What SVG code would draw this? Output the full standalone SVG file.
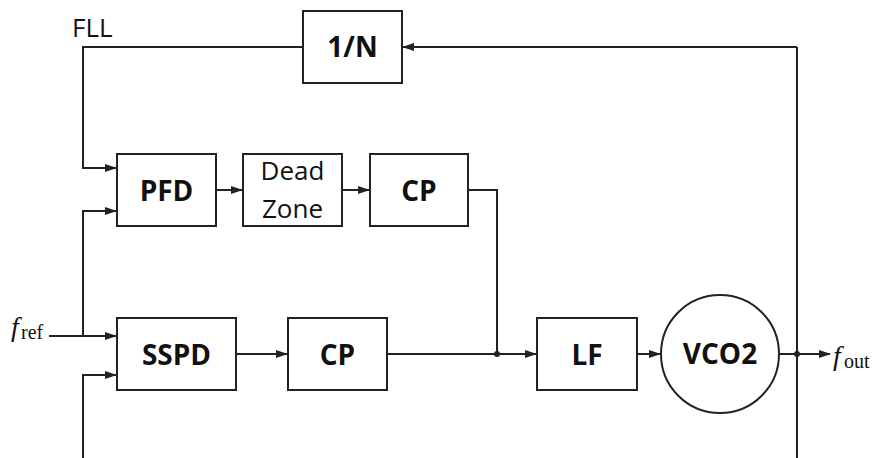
<svg xmlns="http://www.w3.org/2000/svg" width="872" height="458" viewBox="0 0 872 458">
<style>
.box{fill:#fff;stroke:#222;stroke-width:2}
.w{fill:none;stroke:#222;stroke-width:2}
.lb{font-family:"Open Sans","Liberation Sans",sans-serif;font-weight:bold;font-size:28px;fill:#111;text-anchor:middle}
.lr{font-family:"Open Sans","Liberation Sans",sans-serif;font-size:26px;fill:#111;text-anchor:middle}
.sf{font-family:"Liberation Serif",serif;fill:#111}
</style>
<defs>
<marker id="ah" markerWidth="12" markerHeight="8" refX="11" refY="4" orient="auto" markerUnits="userSpaceOnUse">
<path d="M0,0 L12,4 L0,8 Z" fill="#222"/>
</marker>
</defs>
<rect width="872" height="458" fill="#fff"/>
<g id="connectors">
<path class="w" d="M303,47 H83 V168 H116" marker-end="url(#ah)"/>
<path class="w" d="M797,47 H403" marker-end="url(#ah)"/>
<path class="w" d="M83,458 V375 H116" marker-end="url(#ah)"/>
<path class="w" d="M83,336 V211 H116" marker-end="url(#ah)"/>
<path class="w" d="M49,336 H116" marker-end="url(#ah)"/>
<path class="w" d="M216,190 H242" marker-end="url(#ah)"/>
<path class="w" d="M342,190 H369" marker-end="url(#ah)"/>
<path class="w" d="M468,190 H497 V354"/>
<path class="w" d="M236,354 H287" marker-end="url(#ah)"/>
<path class="w" d="M387,354 H536" marker-end="url(#ah)"/>
<path class="w" d="M637,354 H660" marker-end="url(#ah)"/>
<path class="w" d="M779,354 H830" marker-end="url(#ah)"/>
<path class="w" d="M797,47 V458"/>
<circle cx="497" cy="354" r="3" fill="#222"/>
<circle cx="797" cy="354" r="3" fill="#222"/>
</g>
<g id="n1">
<rect class="box" x="303" y="11" width="99" height="72"/>
<text class="lb" x="352.5" y="57">1/N</text>
</g>
<g id="pfd">
<rect class="box" x="117" y="154" width="99" height="72"/>
<text class="lb" x="166.5" y="201">PFD</text>
</g>
<g id="dz">
<rect class="box" x="243" y="154" width="99" height="72"/>
<text class="lr" x="292.5" y="180">Dead</text>
<text class="lr" x="292.5" y="218">Zone</text>
</g>
<g id="cp1">
<rect class="box" x="370" y="154" width="98" height="72"/>
<text class="lb" x="419" y="201">CP</text>
</g>
<g id="sspd">
<rect class="box" x="117" y="318" width="119" height="72"/>
<text class="lb" x="176.5" y="365">SSPD</text>
</g>
<g id="cp2">
<rect class="box" x="288" y="318" width="99" height="72"/>
<text class="lb" x="337.5" y="365">CP</text>
</g>
<g id="lf">
<rect class="box" x="537" y="318" width="100" height="72"/>
<text class="lb" x="587" y="365">LF</text>
</g>
<g id="vco">
<circle class="box" cx="720" cy="354" r="59"/>
<text class="lb" x="720" y="364">VCO2</text>
</g>
<g id="labels">
<text x="72" y="37" font-family="'Open Sans','Liberation Sans',sans-serif" font-size="26" fill="#111">FLL</text>
<text class="sf" x="11" y="336" font-size="28" font-style="italic">f</text>
<text class="sf" x="21" y="339" font-size="20">ref</text>
<text class="sf" x="833" y="365" font-size="28" font-style="italic">f</text>
<text class="sf" x="844" y="368" font-size="20">out</text>
</g>
</svg>
